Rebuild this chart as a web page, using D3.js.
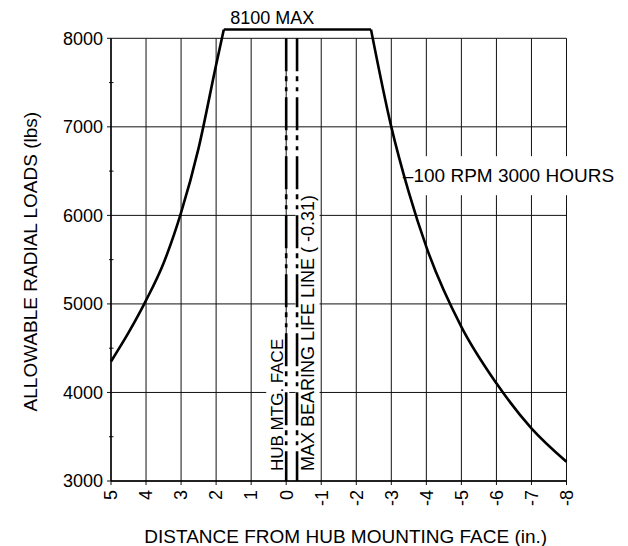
<!DOCTYPE html>
<html>
<head>
<meta charset="utf-8">
<script src="https://cdn.jsdelivr.net/npm/d3@7"></script>
<style>
	body { margin: 0; background: #fff; }
	svg { display: block; font-family: "Liberation Sans", Arial, Helvetica, sans-serif; }
	.grid line { stroke: #111; stroke-width: 1; }
	.curve { fill: none; stroke: #000; stroke-width: 2.6; }
	.refline { stroke: #000; stroke-width: 2.6; stroke-dasharray: 33,5,5,6,4,6; }
	text { fill: #000; }
</style>
</head>
<body>
<svg id="chart" width="628" height="546"></svg>
<script>
// tick values and labels
var xTicks = [5, 4, 3, 2, 1, 0, -1, -2, -3, -4, -5, -6, -7, -8];
var xTickLabels = ['5', '4', '3', '2', '1', '0', '-1', '-2', '-3', '-4', '-5', '-6', '-7', '-8'];
var yTicks = [3000, 4000, 5000, 6000, 7000, 8000];
var yMinorTicks = [3500, 4500, 5500, 6500, 7500];

// 100 RPM 3000 HOURS curve
var leftX = [5, 4.5, 4, 3.5, 3, 2.5, 2, 1.78];
var leftLoad = [4350, 4675, 5040, 5460, 6030, 6760, 7700, 8100];
var maxX = [1.78, -2.42];
var maxLoad = [8100, 8100];
var rightX = [-2.42, -3, -3.5, -4, -5, -6, -7, -8];
var rightLoad = [8100, 7000, 6260, 5644, 4741, 4103, 3595, 3218];

// reference lines (hub face and max bearing life line)
var refX = [0, -0.31];

var chart = {
	left: 111,
	right: 566.5,
	top: 38.3,
	bottom: 481,
	fontSize: 18,
	titleSize: 19
};

var svg = d3.select('#chart');

var x = d3.scaleLinear().domain([5, -8]).range([chart.left, chart.right]);
var y = d3.scaleLinear().domain([3000, 8000]).range([chart.bottom, chart.top]);

//grid
var grid = svg.append('g').attr('class', 'grid');
grid.selectAll('.vgrid').data(xTicks).enter().append('line')
	.attr('class', 'vgrid')
	.attr('x1', function(d) { return x(d); })
	.attr('x2', function(d) { return x(d); })
	.attr('y1', y(8000))
	.attr('y2', y(3000) + 4);
grid.selectAll('.hgrid').data(yTicks).enter().append('line')
	.attr('class', 'hgrid')
	.attr('x1', x(5) - 4)
	.attr('x2', x(-8))
	.attr('y1', function(d) { return y(d); })
	.attr('y2', function(d) { return y(d); });
grid.selectAll('.minor').data(yMinorTicks).enter().append('line')
	.attr('class', 'minor')
	.attr('x1', x(5) - 2)
	.attr('x2', x(5) + 2.5)
	.attr('y1', function(d) { return y(d); })
	.attr('y2', function(d) { return y(d); });

//axis lines a bit heavier
svg.append('line')
	.attr('x1', x(5)).attr('x2', x(5))
	.attr('y1', y(8000)).attr('y2', y(3000))
	.style('stroke', '#000').style('stroke-width', 1.4);
svg.append('line')
	.attr('x1', x(5)).attr('x2', x(-8))
	.attr('y1', y(3000)).attr('y2', y(3000))
	.style('stroke', '#000').style('stroke-width', 1.4);

//tick labels
svg.selectAll('.ylabel').data(yTicks).enter().append('text')
	.attr('class', 'ylabel')
	.attr('x', x(5) - 8)
	.attr('y', function(d) { return y(d); })
	.attr('dy', '0.35em')
	.attr('text-anchor', 'end')
	.style('font-size', chart.fontSize + 'px')
	.text(function(d) { return d; });

svg.selectAll('.xlabel').data(xTicks).enter().append('text')
	.attr('class', 'xlabel')
	.attr('transform', function(d) { return 'translate(' + x(d) + ',' + (y(3000) + 9) + ') rotate(-90)'; })
	.attr('dy', '0.35em')
	.attr('text-anchor', 'end')
	.style('font-size', chart.fontSize + 'px')
	.text(function(d, i) { return xTickLabels[i]; });

//axis titles
svg.append('text')
	.attr('transform', 'translate(' + 37 + ',' + ((chart.top + chart.bottom) / 2 + 2) + ') rotate(-90)')
	.attr('text-anchor', 'middle')
	.style('font-size', chart.titleSize + 'px')
	.text('ALLOWABLE RADIAL LOADS (lbs)');
svg.append('text')
	.attr('x', (chart.left + chart.right) / 2 + 7)
	.attr('y', 543)
	.attr('text-anchor', 'middle')
	.style('font-size', chart.titleSize + 'px')
	.text('DISTANCE FROM HUB MOUNTING FACE (in.)');

//put a white box behind a label so the grid is broken there
function backing(label, padX, padY) {
	var b = label.node().getBBox();
	var t = label.attr('transform');
	d3.select(label.node().parentNode).insert('rect', function() { return label.node(); })
		.attr('x', b.x - padX)
		.attr('y', b.y - padY)
		.attr('width', b.width + 2 * padX)
		.attr('height', b.height + 2 * padY)
		.attr('transform', t)
		.style('fill', '#fff');
}

//reference line labels
var labels = svg.append('g');
var hub = labels.append('text')
	.attr('transform', 'translate(' + (x(refX[0]) - 3) + ',' + 471 + ') rotate(-90)')
	.style('font-size', '17px')
	.text('HUB MTG. FACE');
backing(hub, 1, 2);
var maxLine = labels.append('text')
	.attr('transform', 'translate(' + (x(refX[1]) + 3) + ',' + 471 + ') rotate(-90)')
	.attr('dy', '0.75em')
	.style('font-size', chart.fontSize + 'px')
	.text('MAX BEARING LIFE LINE ( -0.31)');
backing(maxLine, 1, 2);

//dash dot dot reference lines
svg.selectAll('.refline').data(refX).enter().append('line')
	.attr('class', 'refline')
	.attr('x1', function(d) { return x(d); })
	.attr('x2', function(d) { return x(d); })
	.attr('y1', y(8000))
	.attr('y2', y(3000));

//load curve
var line = d3.line()
	.x(function(d) { return x(d[0]); })
	.y(function(d) { return y(d[1]); })
	.curve(d3.curveMonotoneX);
var pieces = [d3.zip(leftX, leftLoad), d3.zip(maxX, maxLoad), d3.zip(rightX, rightLoad)];
svg.selectAll('.curve').data(pieces).enter().append('path')
	.attr('class', 'curve')
	.attr('d', line);

//curve labels
svg.append('text')
	.attr('x', x(0.4))
	.attr('y', y(8100) - 5)
	.attr('text-anchor', 'middle')
	.style('font-size', chart.fontSize + 'px')
	.text('8100 MAX');

var rpm = labels.append('text')
	.attr('x', x(-3.33))
	.attr('y', y(6450))
	.attr('dy', '0.35em')
	.style('font-size', '19px')
	.text('\u2013100 RPM 3000 HOURS');
backing(rpm, 1, 9);
</script>
</body>
</html>
